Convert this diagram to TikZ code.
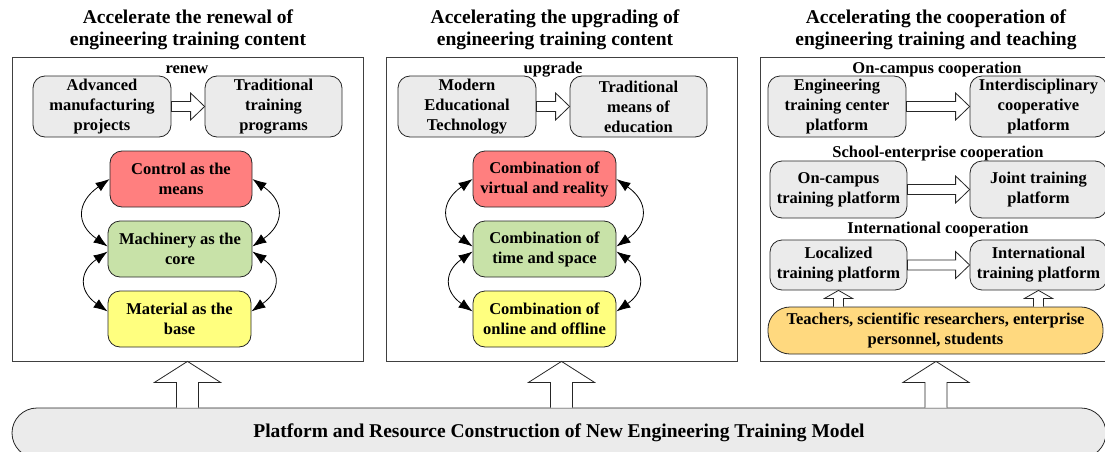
\documentclass[tikz,border=0pt]{standalone}
\usepackage{fontspec}
\setmainfont{Liberation Serif}
\usetikzlibrary{calc,arrows.meta}

\definecolor{boxgray}{HTML}{EBEBEB}
\definecolor{boxred}{HTML}{FF7F7F}
\definecolor{boxgreen}{HTML}{C8E2A8}
\definecolor{boxyellow}{HTML}{FFFF7F}
\definecolor{boxorange}{HTML}{FFD97F}

\tikzset{
  panel/.style={draw=black!75, line width=0.8pt, inner sep=0pt},
  box/.style={draw=black!85, line width=0.8pt, rounded corners=12pt, align=center, inner sep=0pt,
    font=\bfseries\fontsize{16.5}{20}\selectfont},
  topbox/.style={box, fill=boxgray, minimum width=138pt, minimum height=61pt},
  midbox/.style={box, minimum width=143pt, minimum height=56pt},
  head/.style={align=center, font=\bfseries\fontsize{19.5}{22}\selectfont},
  lab/.style={anchor=base, inner sep=0pt, font=\bfseries\fontsize{16.5}{20}\selectfont},
  hollow/.style={draw=black!85, line width=0.8pt, fill=white},
  curv/.style={line width=0.8pt, looseness=1.5},
}

% fat arrow pointing right: #1 start, #2 tip
\newcommand{\rarr}[2]{%
  \draw[hollow] ($#1+(0,-5)$) -- ($#2+(-14,-5)$) -- ($#2+(-14,-13.5)$) -- #2
    -- ($#2+(-14,13.5)$) -- ($#2+(-14,5)$) -- ($#1+(0,5)$) -- cycle;}
% fat arrow pointing up: #1 foot, #2 tip, #3 half shaft, #4 half head, #5 head length
\newcommand{\uarr}[5]{%
  \draw[hollow] ($#1+(-#3,0)$) -- ($#2+(-#3,#5)$) -- ($#2+(-#4,#5)$) -- #2
    -- ($#2+(#4,#5)$) -- ($#2+(#3,#5)$) -- ($#1+(#3,0)$);}

\begin{document}
\begin{tikzpicture}[x=1pt, y=-1pt, >={Latex[length=14pt,width=10pt]}]
    \useasboundingbox (0,0) rectangle (1105,452);
    \clip (0,0) rectangle (1105,452);

    % panels and titles
    \node[panel, minimum width=351pt, minimum height=304pt] (pan1) at (187.5,209) {};
    \node[panel, minimum width=351pt, minimum height=304pt] (pan2) at (561.5,209) {};
    \node[panel, minimum width=352pt, minimum height=304pt] (pan3) at (936,209) {};
    \node[head] (t1) at (188,29.5) {Accelerate the renewal of\\engineering training content};
    \node[head] (t2) at (555,29.5) {Accelerating the upgrading of\\engineering training content};
    \node[head] (t3) at (936,29.5) {Accelerating the cooperation of\\engineering training and teaching};

    % renew
    \node[lab] (renew) at (187,74) {renew};
    \node[topbox] (adv) at (102,106.5) {Advanced\\manufacturing\\projects};
    \node[topbox, minimum width=137pt] (trad) at (273.5,106.5) {Traditional\\training\\programs};
    \rarr{(adv.east)}{(trad.west)}
    \node[midbox, fill=boxred, minimum width=142pt] (ctrl) at (181,179) {Control as the\\means};
    \node[midbox, fill=boxgreen, minimum width=144pt] (mach) at (180,249) {Machinery as the\\core};
    \node[midbox, fill=boxyellow] (mat) at (179.5,319) {Material as the\\base};
    \draw[<->, curv] (ctrl.west) to[out=215, in=145] (mach.178);
    \draw[<->, curv] (mach.182) to[out=215, in=145] (mat.174);
    \draw[<->, curv] (ctrl.east) to[out=-35, in=35] (mach.2);
    \draw[<->, curv] (mach.-2) to[out=-35, in=35] (mat.6);

    % upgrade
    \node[lab] (upgrade) at (553,74) {upgrade};
    \node[topbox] (modern) at (467,106.5) {Modern\\Educational\\Technology};
    \node[topbox, minimum width=137pt] (tradm) at (638.5,106.5) {Traditional\\means of\\education};
    \rarr{(modern.east)}{(tradm.west)}
    \node[midbox, fill=boxred] (virt) at (544.5,179) {Combination of\\virtual and reality};
    \node[midbox, fill=boxgreen] (time) at (544.5,249) {Combination of\\time and space};
    \node[midbox, fill=boxyellow] (online) at (544.5,319) {Combination of\\online and offline};
    \draw[<->, curv] (virt.west) to[out=215, in=145] (time.178);
    \draw[<->, curv] (time.182) to[out=215, in=145] (online.174);
    \draw[<->, curv] (virt.east) to[out=-35, in=35] (time.2);
    \draw[<->, curv] (time.-2) to[out=-35, in=35] (online.6);

    % cooperation
    \node[lab] (oncamp) at (937,74) {On-campus cooperation};
    \node[topbox] (eng) at (837,106.5) {Engineering\\training center\\platform};
    \node[topbox, minimum width=137pt] (inter) at (1038.5,106.5) {Interdisciplinary\\cooperative\\platform};
    \rarr{(eng.east)}{(inter.west)}
    \node[lab] (school) at (938,157) {School-enterprise cooperation};
    \node[topbox, minimum width=137pt, minimum height=57pt] (camp) at (838.5,189.5) {On-campus\\training platform};
    \node[topbox, minimum width=137pt, minimum height=57pt] (joint) at (1038.5,189.5) {Joint training\\platform};
    \rarr{(camp.east)}{(joint.west)}
    \node[lab] (international) at (938,233) {International cooperation};
    \node[topbox, minimum width=137pt, minimum height=50pt] (local) at (838.5,265) {Localized\\training platform};
    \node[topbox, minimum width=137pt, minimum height=50pt] (intl) at (1038.5,265) {International\\training platform};
    \rarr{(local.east)}{(intl.west)}
    \node[box, fill=boxorange, rounded corners=22pt, minimum width=335pt, minimum height=47pt] (teach) at (935.5,330.5)
        {Teachers, scientific researchers, enterprise\\personnel, students};
    \uarr{(local.south |- teach.north)}{(local.south)}{5}{14}{8}
    \uarr{(intl.south |- teach.north)}{(intl.south)}{5}{14}{8}

    % base
    \node[box, fill=boxgray, rounded corners=25pt, minimum width=1094pt, minimum height=50pt,
        font=\bfseries\fontsize{19.5}{22}\selectfont] (base) at (559,433)
        {Platform and Resource Construction of New Engineering Training Model};
    \uarr{(pan1.south |- base.north)}{(pan1.south)}{11}{33}{21}
    \uarr{(pan2.south |- base.north)}{(pan2.south)}{11}{33}{21}
    \uarr{(pan3.south |- base.north)}{(pan3.south)}{11}{33}{21}
\end{tikzpicture}
\end{document}
